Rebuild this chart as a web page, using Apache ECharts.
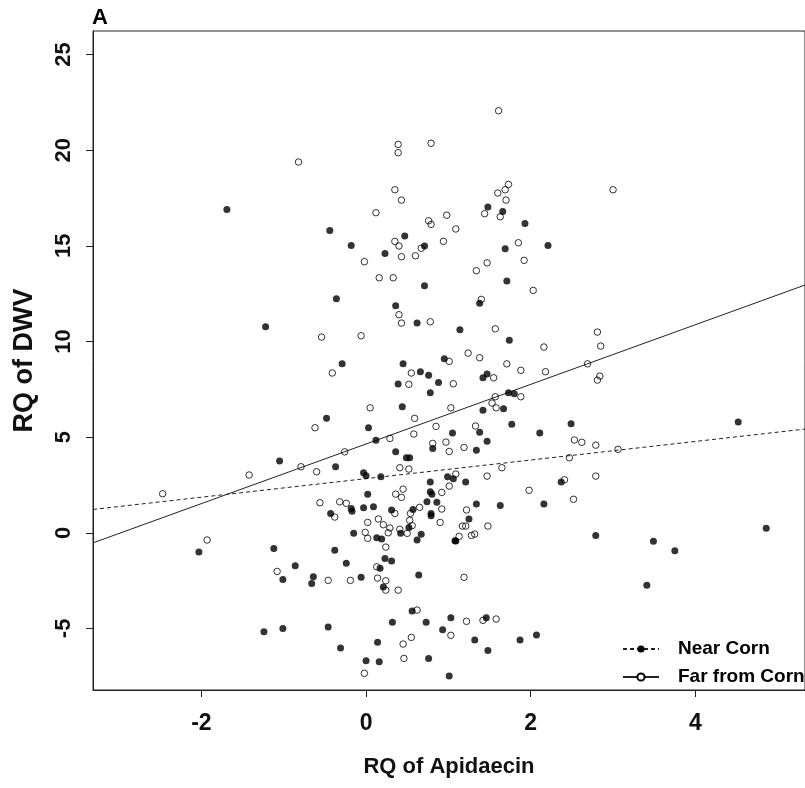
<!DOCTYPE html>
<html>
<head>
<meta charset="utf-8">
<script src="https://cdn.jsdelivr.net/npm/echarts@6/dist/echarts.min.js"></script>
<style>html,body{margin:0;padding:0;background:#fff}#c{width:805px;height:788px}</style>
</head>
<body>
<div id="c"></div>
<script>
// Near Corn (filled points)
const nearX = [-1.69,-0.44,0.47,-0.18,0.71,1.48,1.66,1.93,2.21,1.69,0.23,0.71,-0.36,0.36,0.62,-1.22,-0.29,0.45,0.95,0.66,0.76,0.39,0.88,0.78,0.44,-0.48,0.03,1.05,0.12,0.81,0.36,0.49,0.53,-1.05,1.71,1.38,1.14,1.74,1.42,1.47,1.73,1.80,1.67,1.42,1.77,1.38,2.11,2.49,1.47,1.34,-0.37,-0.03,0.00,0.18,0.99,1.06,0.78,0.78,0.80,0.02,-0.18,-0.17,-0.43,-0.03,0.09,0.31,0.57,0.74,0.86,0.79,0.79,0.52,0.42,-0.15,0.13,0.19,0.67,0.62,1.08,-1.12,-0.38,0.23,0.31,-0.24,-0.86,0.17,-1.01,-0.64,-0.66,-0.06,0.21,0.64,0.56,-1.24,-1.01,-0.46,0.32,0.73,1.03,0.93,0.14,-0.31,0.00,0.16,0.76,1.01,1.21,2.37,1.34,1.63,2.16,1.25,1.09,2.79,1.46,1.32,1.48,1.87,2.07,-2.03,4.52,3.49,3.75,4.86,3.41];
const nearY = [16.90,15.80,15.51,15.02,14.99,17.03,16.80,16.17,15.02,14.85,14.60,12.91,12.23,11.87,10.96,10.77,8.83,8.83,9.10,8.42,8.24,7.77,7.86,7.32,6.59,5.98,5.49,5.21,4.83,4.41,4.23,3.92,3.92,3.75,13.16,12.00,10.61,10.07,8.10,8.30,7.32,7.27,6.48,6.41,5.67,5.26,5.21,5.70,4.78,4.31,3.45,3.14,2.98,2.93,2.93,2.82,2.65,2.14,2.01,2.01,1.27,1.13,1.01,1.31,1.36,1.19,1.22,1.62,1.59,1.01,0.89,0.28,-0.02,-0.03,-0.26,-0.33,-0.08,-0.38,-0.42,-0.82,-0.92,-1.34,-1.48,-1.60,-1.72,-1.86,-2.44,-2.30,-2.65,-2.32,-2.84,-2.21,-4.09,-5.18,-5.00,-4.93,-4.68,-4.68,-4.44,-5.07,-5.73,-6.03,-6.69,-6.74,-6.57,-7.49,2.65,2.65,1.50,1.43,1.50,0.72,-0.43,-0.14,-4.44,-5.61,-6.15,-5.61,-5.35,-1.01,5.79,-0.45,-0.94,0.23,-2.75];
// Far from Corn (open points)
const farX = [-0.82,0.39,0.39,0.79,0.35,0.43,0.12,0.76,0.79,0.98,0.35,0.40,0.67,0.94,1.61,3.00,1.73,1.69,1.60,1.70,1.44,1.63,1.09,1.85,0.60,0.43,-0.02,0.16,0.33,0.40,0.43,0.78,-0.54,-0.06,1.01,-0.41,0.55,0.52,1.06,0.05,1.03,0.59,-0.62,0.85,0.29,0.58,-0.26,0.81,0.97,1.01,1.47,1.34,1.92,2.03,1.40,1.57,2.81,2.85,2.16,1.24,1.38,1.71,1.88,2.18,2.69,2.84,2.81,1.55,1.57,1.88,1.53,1.58,1.33,1.19,2.53,2.62,2.79,3.06,2.47,-0.79,-0.60,0.41,0.52,1.01,0.92,0.36,0.45,0.43,-0.56,-0.32,-0.24,-0.38,0.35,0.54,0.65,0.92,0.90,0.02,0.15,0.21,0.29,0.53,0.56,0.41,0.50,0.27,-0.01,0.02,0.24,0.13,-1.08,-0.46,-0.19,0.14,0.24,0.24,0.39,0.62,1.03,0.55,0.45,0.46,-0.02,1.65,1.09,1.47,2.41,2.79,1.98,2.52,1.22,1.17,1.21,1.48,1.13,1.28,1.32,1.19,1.22,1.42,1.58,-2.47,-1.42,-1.93];
const farY = [19.38,20.30,19.87,20.36,17.93,17.39,16.73,16.31,16.12,16.60,15.23,14.99,14.87,15.23,22.06,17.93,18.21,17.93,17.76,17.39,16.68,16.52,15.88,15.16,14.48,14.43,14.17,13.33,13.33,11.40,10.96,11.03,10.23,10.30,8.96,8.35,8.35,7.76,7.79,6.53,6.53,5.98,5.49,5.56,4.93,5.16,4.23,4.67,4.74,4.25,14.11,13.70,14.24,12.67,12.20,10.66,10.49,9.76,9.71,9.39,9.15,8.83,8.49,8.42,8.83,8.19,7.98,8.10,7.11,7.11,6.78,6.53,5.58,4.46,4.85,4.73,4.58,4.36,3.92,3.45,3.19,3.40,3.33,2.44,2.11,2.02,2.28,1.85,1.57,1.62,1.54,0.82,1.01,1.01,1.33,1.24,0.54,0.54,0.72,0.42,0.25,0.65,0.37,0.18,-0.03,0.00,0.02,-0.29,-0.75,-1.78,-2.02,-2.49,-2.49,-2.37,-2.51,-3.00,-3.00,-4.04,-5.36,-5.47,-5.82,-6.57,-7.35,3.40,3.07,2.96,2.77,2.96,2.22,1.75,1.19,0.35,0.35,0.35,-0.19,-0.14,-0.07,-2.33,-4.63,-4.58,-4.51,2.04,3.02,-0.38];
// Fitted regression lines: [intercept, slope]
const nearFit = [2.83, 0.486];
const farFit = [4.64, 1.559];
// Axis ticks
const xTicks = [-2, 0, 2, 4];
const yTicks = [-5, 0, 5, 10, 15, 20, 25];
const xRange = [-3.316, 5.331];
const yRange = [-8.22, 26.23];

const zip = (a, b) => a.map((v, i) => [v, b[i]]);
const fitLine = f => xRange.map(x => [x, f[0] + f[1] * x]);

const SANS = "'Liberation Sans', Arial, sans-serif";

const chart = echarts.init(document.getElementById('c'), null, {renderer: 'canvas'});
chart.setOption({
  animation: false,
  backgroundColor: '#fff',
  title: {
    text: 'A', left: 92, top: 7, padding: 0,
    textStyle: {fontFamily: SANS, fontWeight: 'bold', fontSize: 22, color: '#000'}
  },
  grid: {left: 93, right: -6, top: 31, bottom: 98, show: true, borderColor: '#222', borderWidth: 1, containLabel: false},
  legend: {
    orient: 'vertical', left: 622, top: 639, padding: 0, itemWidth: 36, itemHeight: 9, itemGap: 8,
    data: ['Near Corn', 'Far from Corn'],
    textStyle: {fontFamily: SANS, fontWeight: 'bold', fontSize: 19, lineHeight: 20, color: '#000', padding: [0, 0, 0, 14]}
  },
  xAxis: {
    type: 'value', min: xRange[0], max: xRange[1],
    name: 'RQ of Apidaecin', nameLocation: 'middle', nameGap: 66,
    nameTextStyle: {fontFamily: SANS, fontWeight: 'bold', fontSize: 22, color: '#111'},
    axisLine: {show: true, onZero: false, lineStyle: {color: '#222', width: 1}},
    axisTick: {show: true, length: 7, customValues: xTicks, lineStyle: {color: '#222'}},
    axisLabel: {customValues: xTicks, margin: 22, fontFamily: SANS, fontWeight: 'bold', fontSize: 23, color: '#111'},
    splitLine: {show: false}
  },
  yAxis: {
    type: 'value', min: yRange[0], max: yRange[1],
    name: 'RQ of DWV', nameLocation: 'middle', nameGap: 55, nameRotate: 90,
    nameTextStyle: {fontFamily: SANS, fontWeight: 'bold', fontSize: 27, color: '#111'},
    axisLine: {show: true, onZero: false, lineStyle: {color: '#222', width: 1}},
    axisTick: {show: true, length: 7, customValues: yTicks, lineStyle: {color: '#222'}},
    axisLabel: {customValues: yTicks, rotate: 90, margin: 18, fontFamily: SANS, fontWeight: 'bold', fontSize: 22, color: '#111'},
    splitLine: {show: false}
  },
  series: [
    {
      name: 'Near Corn', type: 'line', data: fitLine(nearFit), showSymbol: false,
      symbol: 'circle', symbolSize: 8, silent: true, z: 3,
      itemStyle: {color: '#000'},
      lineStyle: {color: '#222', width: 1, type: [4, 3]}
    },
    {
      name: 'Far from Corn', type: 'line', data: fitLine(farFit), showSymbol: false,
      symbol: 'circle', symbolSize: 8, silent: true, z: 3,
      itemStyle: {color: '#fff', borderColor: '#000', borderWidth: 1},
      lineStyle: {color: '#222', width: 1, type: 'solid'}
    },
    {
      name: 'nearPts', type: 'scatter', data: zip(nearX, nearY), symbol: 'circle', symbolSize: 7,
      itemStyle: {color: '#000'}, z: 4
    },
    {
      name: 'farPts', type: 'scatter', data: zip(farX, farY), symbol: 'circle', symbolSize: 6.5,
      itemStyle: {color: 'rgba(0,0,0,0)', borderColor: '#000', borderWidth: 1}, z: 4
    }
  ]
});
</script>
</body>
</html>
